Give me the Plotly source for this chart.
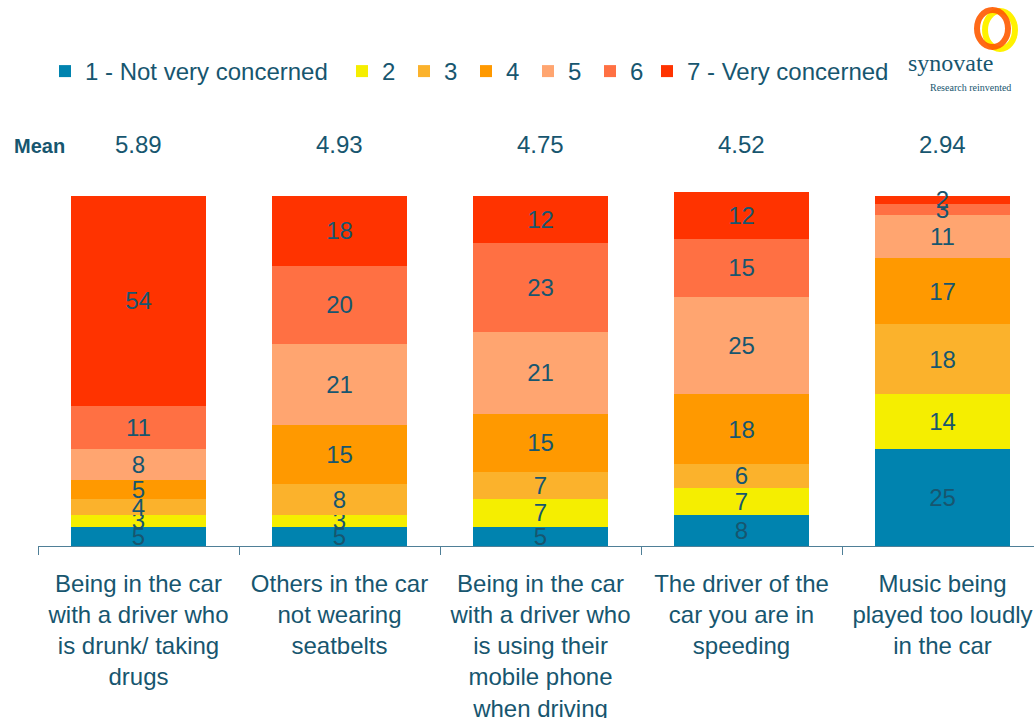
import plotly.graph_objects as go

categories = [
    "Being in the car<br>with a driver who<br>is drunk/ taking<br>drugs",
    "Others in the car<br>not wearing<br>seatbelts",
    "Being in the car<br>with a driver who<br>is using their<br>mobile phone<br>when driving",
    "The driver of the<br>car you are in<br>speeding",
    "Music being<br>played too loudly<br>in the car",
]
series_names = ["1 - Not very concerned", "2", "3", "4", "5", "6", "7 - Very concerned"]
s1 = [5, 5, 5, 8, 25]
s2 = [3, 3, 7, 7, 14]
s3 = [4, 8, 7, 6, 18]
s4 = [5, 15, 15, 18, 17]
s5 = [8, 21, 21, 25, 11]
s6 = [11, 20, 23, 15, 3]
s7 = [54, 18, 12, 12, 2]
means = ["5.89", "4.93", "4.75", "4.52", "2.94"]

colors = ["#0083AF", "#F5EE00", "#FBB22C", "#FF9900", "#FFA570", "#FF7043", "#FF3300"]
legend_ids = ["legend", "legend2", "legend2", "legend2", "legend2", "legend2", "legend3"]
TXT = "#17566F"
FONT = "Liberation Sans, Arial, sans-serif"

fig = go.Figure()
for name, vals, col, lg in zip(series_names, [s1, s2, s3, s4, s5, s6, s7], colors, legend_ids):
    fig.add_trace(go.Bar(
        x=categories, y=vals, name=name, legend=lg,
        marker=dict(color=col, line=dict(width=0)),
        text=[str(v) for v in vals], textposition="inside", insidetextanchor="middle",
        textangle=0, textfont=dict(color=TXT, size=24, family=FONT),
        constraintext="none", cliponaxis=False, hoverinfo="skip",
    ))

# plot geometry (page margin removed by post_script below)
W, H = 1034, 718
L, R, T, B = 38, 0, 157, 172
pw, ph = W - L - R, H - T - B


def px(x):
    return (x - L) / pw


def py(y):
    return (H - B - y) / ph


annotations = []
annotations.append(dict(text="<b>Mean</b>", x=px(12), y=py(146), xref="paper", yref="paper",
                        xanchor="left", yanchor="middle", showarrow=False,
                        font=dict(size=20, color=TXT, family=FONT)))
for i, m in enumerate(means):
    annotations.append(dict(text=m, x=categories[i], y=py(145), xref="x", yref="paper",
                            xanchor="center", yanchor="middle", showarrow=False,
                            font=dict(size=24, color=TXT, family=FONT)))
annotations.append(dict(text="synovate", x=px(950), y=py(63), xref="paper", yref="paper",
                        xanchor="center", yanchor="middle", showarrow=False,
                        font=dict(size=24, color=TXT, family="Liberation Serif, serif")))
annotations.append(dict(text="Research reinvented", x=px(970), y=py(87), xref="paper", yref="paper",
                        xanchor="center", yanchor="middle", showarrow=False,
                        font=dict(size=10, color=TXT, family="Liberation Serif, serif")))

shapes = [
    dict(type="circle", xref="paper", yref="paper", x0=px(985), x1=px(1015), y0=py(49), y1=py(11),
         line=dict(color="#FFF200", width=6)),
    dict(type="circle", xref="paper", yref="paper", x0=px(977), x1=px(1008), y0=py(47), y1=py(10),
         line=dict(color="#FF5A00", width=6), opacity=0.9),
]

legend_common = dict(orientation="h", xref="container", yref="container", y=1 - 49 / H,
                     xanchor="left", yanchor="top", font=dict(size=24, color=TXT, family=FONT),
                     itemclick=False, itemdoubleclick=False, traceorder="normal",
                     bgcolor="rgba(0,0,0,0)")

fig.update_layout(
    width=W, height=H,
    margin=dict(l=L, r=R, t=T, b=B, autoexpand=False),
    barmode="stack", bargap=0.333,
    plot_bgcolor="white", paper_bgcolor="white",
    font=dict(family=FONT, color=TXT, size=24),
    uniformtext=dict(minsize=24, mode="show"),
    legend=dict(legend_common, x=(66 - 21) / W),
    legend2=dict(legend_common, x=(363 - 21) / W, entrywidth=17, entrywidthmode="pixels"),
    legend3=dict(legend_common, x=(668 - 21) / W),
    annotations=annotations, shapes=shapes,
    showlegend=True,
)
fig.update_xaxes(range=[-0.5, -0.5 + pw / 201], showgrid=False, showline=True, linecolor="#4F7F97",
                 linewidth=1, ticks="outside", tickson="boundaries", ticklen=8, tickcolor="#4F7F97",
                 tickfont=dict(size=24, color=TXT, family=FONT), tickangle=0, ticklabelstandoff=16,
                 automargin=False)
fig.update_yaxes(range=[0, 100], visible=False, showgrid=False, automargin=False)

fig.write_html("out.html", config={"displayModeBar": False},
               post_script="document.body.style.margin='0';document.body.style.overflow='hidden';")
